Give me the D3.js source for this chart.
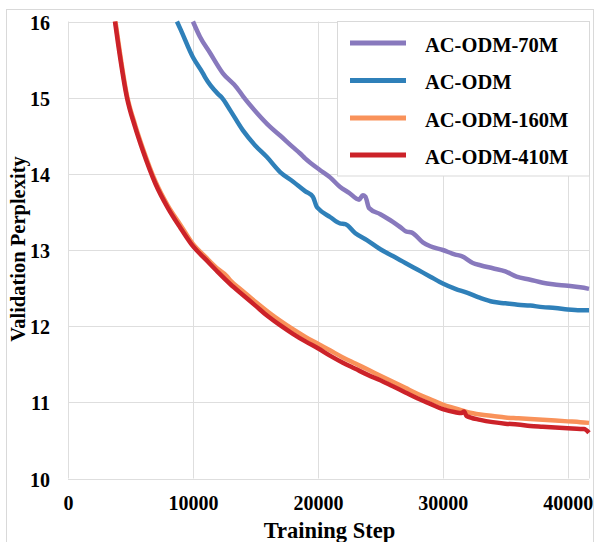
<!DOCTYPE html>
<html>
<head>
<meta charset="utf-8">
<script src="https://cdn.jsdelivr.net/npm/d3@7"></script>
<style>
  html, body { margin: 0; padding: 0; background: #fff; }
  svg { display: block; }
  text { font-family: "Liberation Serif", "Times New Roman", serif; font-weight: bold; fill: #000; }
</style>
</head>
<body>
<svg id="chart" width="595" height="542"></svg>
<script>
// ---- data ----
const seriesNames = ["AC-ODM-70M", "AC-ODM", "AC-ODM-160M", "AC-ODM-410M"];
const xTicks = [0, 10000, 20000, 30000, 40000];
const yTicks = [10, 11, 12, 13, 14, 15, 16];

const stepsPurple = [10000, 10560, 11360, 12400, 13520, 14000, 15120, 16160, 17000, 18000, 18560, 19000, 20160, 21000, 21760, 22500, 23300, 23600, 23800, 24100, 25000, 26000, 26600, 27100, 27500, 28400, 29000, 30000, 31000, 31500, 32400, 33000, 34000, 35000, 35900, 37000, 38000, 38800, 40000, 41000, 41700];
const valsPurple  = [16.0, 15.80, 15.59, 15.32, 15.13, 15.02, 14.80, 14.62, 14.50, 14.35, 14.27, 14.20, 14.05, 13.95, 13.83, 13.75, 13.66, 13.72, 13.70, 13.55, 13.47, 13.37, 13.30, 13.24, 13.23, 13.10, 13.05, 13.00, 12.94, 12.92, 12.83, 12.80, 12.76, 12.72, 12.65, 12.61, 12.57, 12.55, 12.53, 12.51, 12.49];

const stepsBlue = [8720, 9000, 10000, 10800, 11000, 12000, 12320, 13000, 14000, 15000, 15920, 17000, 18000, 19000, 19600, 19900, 20000, 21000, 21760, 22200, 23000, 23920, 25000, 26000, 26560, 27000, 28000, 29000, 29760, 30000, 31000, 31920, 33000, 34000, 35000, 36000, 37000, 38000, 39000, 40000, 41000, 41700];
const valsBlue  = [16.0, 15.90, 15.53, 15.32, 15.26, 15.05, 15.00, 14.83, 14.57, 14.37, 14.22, 14.02, 13.90, 13.77, 13.70, 13.57, 13.55, 13.43, 13.35, 13.34, 13.22, 13.13, 13.01, 12.92, 12.87, 12.83, 12.74, 12.65, 12.58, 12.56, 12.49, 12.44, 12.37, 12.32, 12.30, 12.28, 12.27, 12.25, 12.24, 12.22, 12.21, 12.21];

const stepsOrange = [3800, 4000, 4720, 5360, 6000, 7000, 8000, 9000, 10000, 11000, 12000, 12700, 13000, 14000, 15000, 16000, 17000, 18000, 19000, 20000, 21000, 22000, 23000, 24000, 25000, 26000, 27000, 28000, 29000, 30000, 31000, 32000, 33000, 34000, 35000, 36000, 37000, 38000, 39000, 40000, 41000, 41700];
const valsOrange  = [16.0, 15.77, 15.03, 14.65, 14.33, 13.90, 13.58, 13.33, 13.08, 12.91, 12.75, 12.66, 12.60, 12.46, 12.32, 12.19, 12.07, 11.96, 11.86, 11.77, 11.68, 11.59, 11.51, 11.43, 11.35, 11.27, 11.19, 11.11, 11.04, 10.97, 10.92, 10.87, 10.84, 10.82, 10.80, 10.79, 10.78, 10.77, 10.76, 10.75, 10.74, 10.73];

const stepsRed = [3760, 4000, 4720, 5360, 6000, 7000, 8000, 9000, 10000, 11000, 12000, 13000, 14000, 15000, 16000, 17000, 18000, 19000, 20000, 21000, 22000, 23000, 24000, 25000, 26000, 27000, 28000, 29000, 30000, 31000, 31500, 31700, 31900, 33000, 34000, 35000, 36000, 37000, 38000, 39000, 40000, 41000, 41300, 41700];
const valsRed  = [16.0, 15.72, 15.00, 14.62, 14.30, 13.87, 13.55, 13.29, 13.05, 12.88, 12.71, 12.55, 12.41, 12.27, 12.13, 12.01, 11.90, 11.80, 11.71, 11.61, 11.52, 11.44, 11.36, 11.29, 11.21, 11.13, 11.05, 10.98, 10.91, 10.87, 10.86, 10.88, 10.82, 10.77, 10.74, 10.72, 10.71, 10.69, 10.68, 10.67, 10.66, 10.65, 10.65, 10.60];

const colors = ["#8879bd", "#2f80b9", "#f9925a", "#cc2229"];

// ---- chart ----
const svg = d3.select("#chart");
const pLeft = 68, pRight = 589, pTop = 21.5, pBottom = 478.5;

const x = d3.scaleLinear().domain([0, 41700]).range([pLeft, pRight]);
const y = d3.scaleLinear().domain([10, 16]).range([pBottom, pTop]);

// outer frame
svg.append("rect").attr("x", 6.5).attr("y", 9.5).attr("width", 587).attr("height", 600)
  .attr("fill", "none").attr("stroke", "#d9d9d9").attr("stroke-width", 1);

// grid
const grid = svg.append("g");
grid.selectAll("line.h").data(yTicks).join("line")
  .attr("x1", pLeft).attr("x2", pRight)
  .attr("y1", d => Math.round(y(d)) + 0.5).attr("y2", d => Math.round(y(d)) + 0.5)
  .attr("stroke", "#dedede").attr("stroke-width", 1);
grid.selectAll("line.v").data(xTicks).join("line")
  .attr("y1", pTop).attr("y2", pBottom)
  .attr("x1", d => Math.round(x(d)) + 0.5).attr("x2", d => Math.round(x(d)) + 0.5)
  .attr("stroke", "#dedede").attr("stroke-width", 1);
svg.append("line").attr("x1", pRight + 0.5).attr("x2", pRight + 0.5).attr("y1", pTop).attr("y2", pBottom)
  .attr("stroke", "#dedede");

// axes (labels only)
const xAxis = d3.axisBottom(x).tickValues(xTicks).tickFormat(d3.format("d")).tickSize(0).tickPadding(0);
const gx = svg.append("g").attr("transform", `translate(0,${pBottom})`).call(xAxis);
gx.select(".domain").remove();
gx.selectAll("text").attr("dy", null).attr("y", 31)
  .style("font-family", '"Liberation Serif", serif').style("font-weight", "bold").style("font-size", "20px");

const yAxis = d3.axisLeft(y).tickValues(yTicks).tickFormat(d3.format("d")).tickSize(0).tickPadding(0);
const gy = svg.append("g").attr("transform", `translate(50,0)`).call(yAxis);
gy.select(".domain").remove();
gy.selectAll("text").attr("x", 0).attr("dy", "0.38em")
  .style("font-family", '"Liberation Serif", serif').style("font-weight", "bold").style("font-size", "20px");

// axis titles
svg.append("text").attr("x", 329.5).attr("y", 538).attr("text-anchor", "middle")
  .style("font-size", "22.5px").text("Training Step");
svg.append("text").attr("transform", "translate(25,249) rotate(-90)").attr("text-anchor", "middle")
  .style("font-size", "20.5px").text("Validation Perplexity");

// lines
svg.append("clipPath").attr("id", "clip").append("rect")
  .attr("x", pLeft).attr("y", pTop - 3).attr("width", pRight - pLeft + 3).attr("height", pBottom - pTop + 6);

const data = [
  { steps: stepsPurple, vals: valsPurple },
  { steps: stepsBlue, vals: valsBlue },
  { steps: stepsOrange, vals: valsOrange },
  { steps: stepsRed, vals: valsRed }
];
const line = d3.line().x(d => x(d[0])).y(d => y(d[1])).curve(d3.curveMonotoneX);
const gl = svg.append("g").attr("clip-path", "url(#clip)");
data.forEach((s, i) => {
  const pts = s.steps.map((st, j) => [st, s.vals[j]]);
  gl.append("path").datum(pts).attr("d", line)
    .attr("fill", "none").attr("stroke", colors[i]).attr("stroke-width", 4.5)
    .attr("stroke-linejoin", "round").attr("stroke-linecap", "butt");
});

// legend
const lg = svg.append("g");
lg.append("rect").attr("x", 337.5).attr("y", 21.5).attr("width", 252).attr("height", 154.5)
  .attr("fill", "#fff").attr("stroke", "#d9d9d9");
const legY = [43, 80.5, 118, 155];
seriesNames.forEach((n, i) => {
  lg.append("line").attr("x1", 350).attr("x2", 406).attr("y1", legY[i]).attr("y2", legY[i])
    .attr("stroke", colors[i]).attr("stroke-width", 5);
  lg.append("text").attr("x", 425).attr("y", legY[i] + 8.5).style("font-size", "20.5px").text(n);
});
</script>
</body>
</html>
